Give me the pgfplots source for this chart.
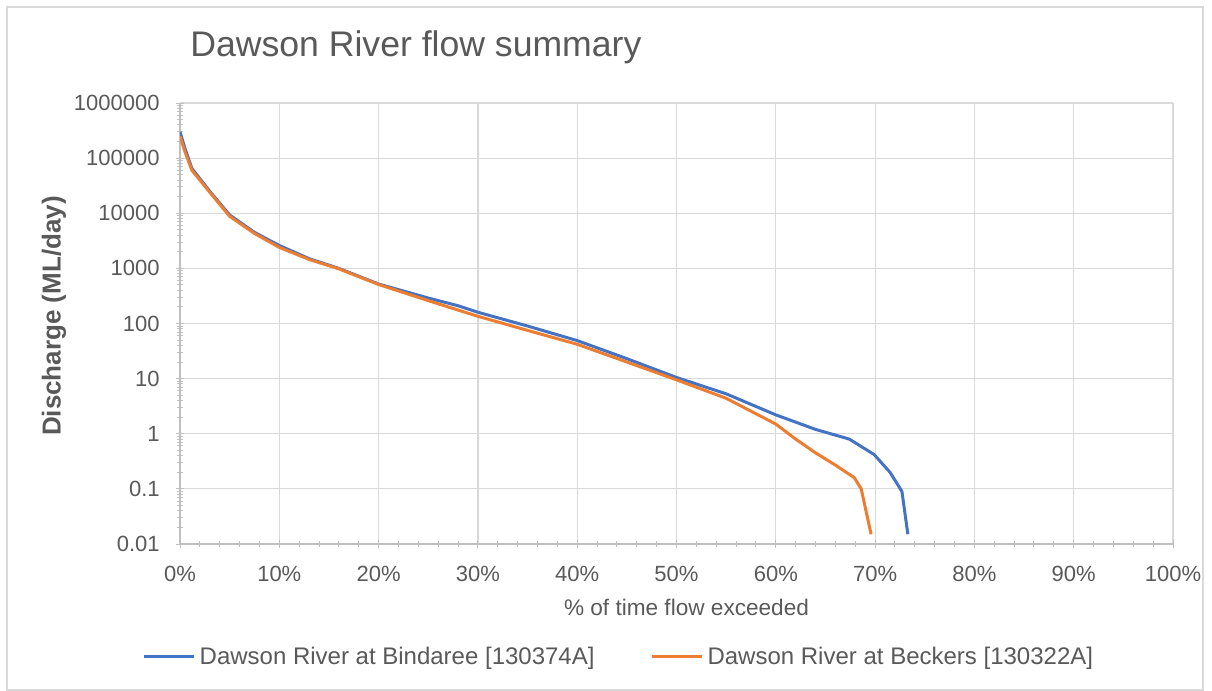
\documentclass[border=0pt]{standalone}
\usepackage{pgfplots}
\pgfplotsset{compat=1.18}
\usepackage{fontspec}
\setmainfont{Liberation Sans}
\definecolor{cblue}{HTML}{4472C4}
\definecolor{corange}{HTML}{ED7D31}
\definecolor{txt}{HTML}{595959}
\definecolor{gridc}{HTML}{D9D9D9}
\definecolor{axc}{HTML}{BFBFBF}
\pgfplotstableread{
x y
0 300000
0.5 150000
1.2 65000
3 25000
5 9300
7.5 4500
10 2600
13 1500
16 1000
20 520
25 290
28 210
30 160
35 90
40 49
45 23
50 10.5
55 5.3
60 2.2
64 1.2
67.4 0.8
69.9 0.42
71.5 0.2
72.7 0.09
73.3 0.015
}\bindaree
\pgfplotstableread{
x y
0 250000
0.5 130000
1.2 60000
3 24000
5 8800
7.5 4300
10 2400
13 1450
16 980
20 510
25 260
30 135
35 75
40 42
45 20
50 9.5
55 4.4
60 1.5
62 0.8
64 0.45
66 0.27
67.9 0.16
68.6 0.1
69.6 0.015
}\beckers
\begin{document}
\begin{tikzpicture}
\path[use as bounding box] (0,0) rectangle (606bp,345.5bp);
\draw[gridc, line width=0.6bp] (3.5bp,0.5bp) rectangle (601.5bp,342bp);
\node[anchor=base west, text=txt, font=\fontsize{17.8bp}{20bp}\selectfont, inner sep=0pt] at (95bp,317bp) {Dawson River flow summary};
\begin{axis}[
  at={(90bp,73.5bp)}, anchor=south west,
  scale only axis, width=496.5bp, height=220.5bp,
  xmin=0, xmax=100, ymin=0.01, ymax=1000000,
  ymode=log,
  axis lines=left,
  axis line style={-, draw=axc, line width=0.6bp},
  grid=major,
  major grid style={draw=gridc, line width=0.6bp},
  xtick={0,10,...,100},
  xticklabels={0\%,10\%,20\%,30\%,40\%,50\%,60\%,70\%,80\%,90\%,100\%},
  minor x tick num=4,
  ytick={0.01,0.1,1,10,100,1000,10000,100000,1000000},
  yticklabels={0.01,0.1,1,10,100,1000,10000,100000,1000000},
  tick align=center,
  major tick length=4bp, minor tick length=3bp,
  tick style={draw=axc, line width=0.5bp},
  ticklabel style={text=txt, font=\fontsize{11bp}{12bp}\selectfont},
  xticklabel style={anchor=north, inner sep=0pt, yshift=-9bp},
  yticklabel style={anchor=east, inner sep=0pt, xshift=-8bp},
  xlabel={\% of time flow exceeded},
  xlabel style={at={(rel axis cs:0.5,0)}, anchor=center, yshift=-31.5bp, xshift=5bp, text=txt, font=\fontsize{11.3bp}{13bp}\selectfont},
  ylabel={Discharge (ML/day)},
  ylabel style={at={(rel axis cs:0,0.517)}, anchor=center, yshift=63bp, text=txt, font=\bfseries\fontsize{13bp}{15bp}\selectfont},
  legend columns=2,
  legend style={at={(rel axis cs:0.443,-0.256)}, anchor=center, draw=none, fill=none,
    font=\fontsize{12bp}{14bp}\selectfont, text=txt,
    /tikz/every even column/.append style={column sep=26bp},
    nodes={inner sep=2bp}},
  legend image code/.code={\draw[#1] (0bp,0bp) -- (25bp,0bp);},
]
\addplot[cblue, line width=1.5bp] table[x=x,y=y] {\bindaree};
\addlegendentry{Dawson River at Bindaree [130374A]}
\addplot[corange, line width=1.5bp] table[x=x,y=y] {\beckers};
\addlegendentry{Dawson River at Beckers [130322A]}
\end{axis}
\end{tikzpicture}
\end{document}
